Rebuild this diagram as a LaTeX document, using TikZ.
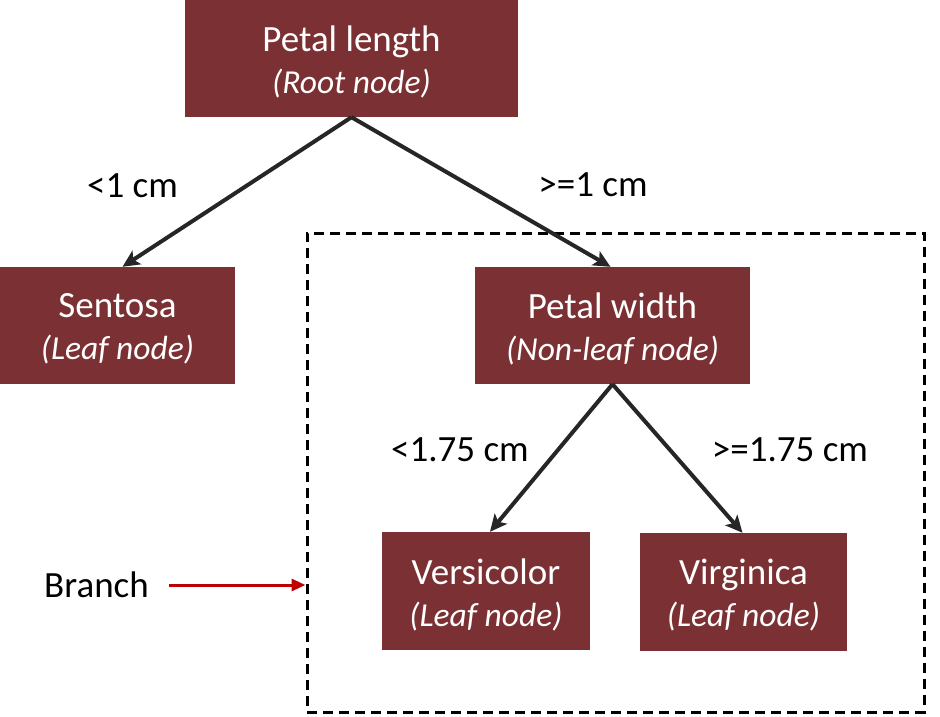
\documentclass[tikz,border=0pt]{standalone}
\usepackage{fontspec}
\setmainfont{Carlito}
\usetikzlibrary{arrows.meta}
\definecolor{boxred}{HTML}{7B3133}
\definecolor{arrowgray}{HTML}{262626}
\definecolor{branchred}{HTML}{C00000}
\newcommand{\subline}[1]{{\fontsize{33.5}{42}\selectfont\itshape #1}}
\begin{document}
\begin{tikzpicture}[x=1pt,y=-1pt,
  treebox/.style={fill=boxred, inner sep=0pt},
  boxtext/.style={text=white, inner sep=0pt, align=center,
    font=\fontsize{37}{42}\selectfont, yshift=-3.5pt},
  lbl/.style={inner sep=0pt, text=black, font=\fontsize{37}{42}\selectfont},
  edge/.style={draw=arrowgray, line width=4pt,
    -{Stealth[length=17pt,width=16pt,inset=4pt]}},
  dashbox/.style={draw=black, line width=3pt, dash pattern=on 10pt off 6pt},
  redarrow/.style={draw=branchred, line width=3pt,
    -{Triangle[length=14pt,width=12pt]}}]
\useasboundingbox (0,0) rectangle (940,717);
\node[treebox, minimum width=333pt, minimum height=117pt] (root) at (351.5,58.5) {};
\node[treebox, minimum width=235pt, minimum height=117pt] (sentosa) at (117.5,325.5) {};
\node[treebox, minimum width=275pt, minimum height=117pt] (pwidth) at (612.5,325.5) {};
\node[treebox, minimum width=208pt, minimum height=118pt] (versi) at (486,591) {};
\node[treebox, minimum width=207pt, minimum height=118pt] (virg) at (743.5,592) {};
\node[boxtext] (roottxt) at (root.center) {Petal length\\\subline{(Root node)}};
\node[boxtext] (sentosatxt) at (sentosa.center) {Sentosa\\\subline{(Leaf node)}};
\node[boxtext] (pwidthtxt) at (pwidth.center) {Petal width\\\subline{(Non-leaf node)}};
\node[boxtext] (versitxt) at (versi.center) {Versicolor\\\subline{(Leaf node)}};
\node[boxtext] (virgtxt) at (virg.center) {Virginica\\\subline{(Leaf node)}};
\node[dashbox, minimum width=617pt, minimum height=479pt] (branchbox) at (615.5,472.5) {};
\node[lbl] (l1) at (132.5,186) {<1 cm};
\node[lbl] (l2) at (593,185) {>=1 cm};
\node[lbl] (l3) at (460,450) {<1.75 cm};
\node[lbl] (l4) at (790,450) {>=1.75 cm};
\node[lbl] (branch) at (96.5,585) {Branch};
\draw[edge] (root.south) -- ([xshift=5pt]sentosa.north);
\draw[edge] (root.south) -- ([xshift=-2pt]pwidth.north);
\draw[edge] (pwidth.south) -- ([xshift=4pt]versi.north);
\draw[edge] (pwidth.south) -- ([xshift=-1pt]virg.north);
\draw[redarrow] ([xshift=20pt]branch.east) -- (branchbox.west |- branch.east);
\end{tikzpicture}
\end{document}
